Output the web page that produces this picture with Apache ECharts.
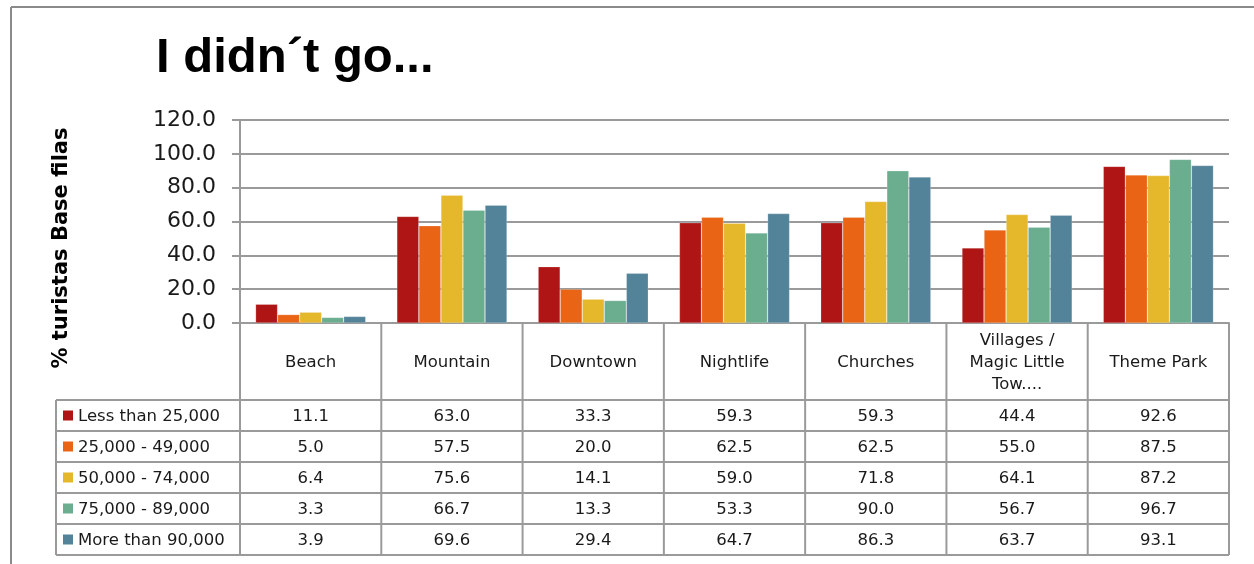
<!DOCTYPE html>
<html>
<head>
<meta charset="utf-8">
<script src="https://cdn.jsdelivr.net/npm/echarts@6/dist/echarts.min.js"></script>
<style>
html,body{margin:0;padding:0;background:#fff;}
#c{width:1254px;height:564px;}
</style>
</head>
<body>
<div id="c"></div>
<script>
const categories = ['Beach', 'Mountain', 'Downtown', 'Nightlife', 'Churches', 'Villages /\nMagic Little\nTow....', 'Theme Park'];
const seriesNames = ['Less than 25,000', '25,000 - 49,000', '50,000 - 74,000', '75,000 - 89,000', 'More than 90,000'];
const lessThan25k = [11.1, 63.0, 33.3, 59.3, 59.3, 44.4, 92.6];
const from25kTo49k = [5.0, 57.5, 20.0, 62.5, 62.5, 55.0, 87.5];
const from50kTo74k = [6.4, 75.6, 14.1, 59.0, 71.8, 64.1, 87.2];
const from75kTo89k = [3.3, 66.7, 13.3, 53.3, 90.0, 56.7, 96.7];
const moreThan90k = [3.9, 69.6, 29.4, 64.7, 86.3, 63.7, 93.1];
const yTicks = [0, 20, 40, 60, 80, 100, 120];

const seriesValues = [lessThan25k, from25kTo49k, from50kTo74k, from75kTo89k, moreThan90k];
const colors = ['#B01515', '#E96414', '#E5B72B', '#6AAD8F', '#538399'];
const FONT = '"DejaVu Sans", sans-serif';
const GRAY = '#9a9a9a';

const gridLeft = 240, gridRight = 25, gridTop = 120, gridBottom = 241;
const W = 1254, H = 564;

const chart = echarts.init(document.getElementById('c'), null, {renderer: 'canvas'});

chart.setOption({
  animation: false,
  backgroundColor: '#fff',
  title: {
    text: 'I didn\u00B4t go...',
    left: 151, top: 29,
    textStyle: {fontFamily: '"Liberation Sans", Arial, sans-serif', fontWeight: 'bold', fontSize: 49, color: '#000'}
  },
  grid: {left: gridLeft, right: gridRight, top: gridTop, bottom: gridBottom, containLabel: false},
  xAxis: {
    type: 'category',
    data: categories,
    axisLine: {show: true, lineStyle: {color: GRAY, width: 2}},
    axisTick: {show: false},
    axisLabel: {show: false},
    splitLine: {show: false}
  },
  yAxis: {
    type: 'value',
    min: yTicks[0], max: yTicks[yTicks.length - 1], interval: 20,
    axisLine: {show: true, lineStyle: {color: GRAY, width: 2}},
    axisTick: {show: true, length: 8, inside: false, lineStyle: {color: GRAY, width: 2}},
    axisLabel: {
      formatter: v => v.toFixed(1),
      fontFamily: FONT, fontSize: 22, color: '#1a1a1a', margin: 24
    },
    splitLine: {show: true, lineStyle: {color: GRAY, width: 2}}
  },
  series: seriesNames.map((n, i) => ({
    name: n,
    type: 'bar',
    data: seriesValues[i],
    barGap: '0%',
    barCategoryGap: '22%',
    itemStyle: {color: colors[i], borderColor: 'rgba(255,255,255,0.35)', borderWidth: 0.6},
    z: 2
  }))
});

// Build table from scales
const n = categories.length;
const plotW = W - gridLeft - gridRight;
const colW = plotW / n;
const tableTop = H - gridBottom;      // 323
const headerBottom = 400;
const rowH = 31;
const legendLeft = 56;
const tableRight = gridLeft + plotW;
const tableBottom = headerBottom + rowH * seriesNames.length;
const CELL_FONT = '16.5px "DejaVu Sans", sans-serif';

const g = [];
function line(x1, y1, x2, y2, w, c) {
  g.push({type: 'line', shape: {x1, y1, x2, y2}, style: {stroke: c || GRAY, lineWidth: w || 2}, z: 10, silent: true});
}
// outer frame
line(11, 7, 11, H, 2, '#8a8a8a');
line(11, 7, W, 7, 2, '#8a8a8a');

// y axis name
g.push({
  type: 'text', x: 62, y: 248, rotation: Math.PI / 2,
  style: {text: '% turistas Base filas', font: 'bold 21px "DejaVu Sans", sans-serif', fill: '#000', align: 'center', verticalAlign: 'middle'},
  z: 10
});

// column centers via axis scale
const centers = categories.map(c => chart.convertToPixel({xAxisIndex: 0}, c));

// vertical lines
for (let i = 0; i <= n; i++) {
  const x = centers[0] - colW / 2 + i * colW;
  line(x, tableTop, x, tableBottom);
}
line(legendLeft, headerBottom, legendLeft, tableBottom);
// horizontal lines
for (let r = 0; r <= seriesNames.length; r++) {
  const y = headerBottom + r * rowH;
  line(legendLeft, y, tableRight, y);
}
// header text
categories.forEach((c, i) => {
  g.push({
    type: 'text', x: centers[i], y: (tableTop + headerBottom) / 2 + 1,
    style: {text: c, font: CELL_FONT, fill: '#1a1a1a', align: 'center', verticalAlign: 'middle', lineHeight: 22},
    z: 11
  });
});
// rows
seriesNames.forEach((name, r) => {
  const cy = headerBottom + r * rowH + rowH / 2;
  g.push({type: 'rect', shape: {x: 63, y: cy - 5, width: 10, height: 10}, style: {fill: colors[r]}, z: 11});
  g.push({type: 'text', x: 78, y: cy + 1, style: {text: name, font: CELL_FONT, fill: '#1a1a1a', align: 'left', verticalAlign: 'middle'}, z: 11});
  seriesValues[r].forEach((v, i) => {
    g.push({type: 'text', x: centers[i], y: cy + 1, style: {text: v.toFixed(1), font: CELL_FONT, fill: '#1a1a1a', align: 'center', verticalAlign: 'middle'}, z: 11});
  });
});

chart.setOption({graphic: {elements: g}});
</script>
</body>
</html>
